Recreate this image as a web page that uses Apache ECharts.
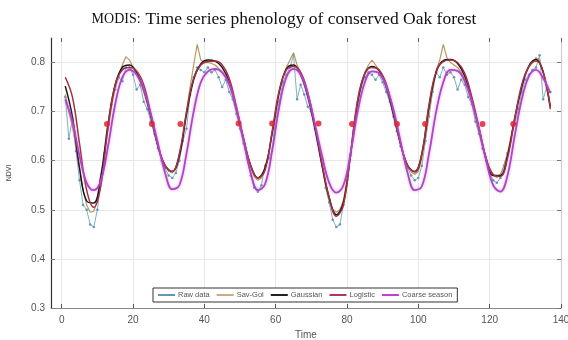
<!DOCTYPE html>
<html>
<head>
<meta charset="utf-8">
<script src="https://cdn.jsdelivr.net/npm/echarts@6/dist/echarts.min.js"></script>
<style>
html, body { margin: 0; padding: 0; background: #fff; }
#main { width: 568px; height: 340px; }
</style>
</head>
<body>
<div id="main"></div>
<script>
// time steps (16-day composites)
var tRaw = [1,2,3,4,5,6,7,8,9,10,11,12,13,14,15,16,17,18,19,20,21,22,23,24,25,26,27,28,29,30,
	31,32,33,34,35,36,37,38,39,40,41,42,43,44,45,46,47,48,49,50,51,52,53,54,55,56,57,58,59,60,
	61,62,63,64,65,66,67,68,69,70,71,72,73,74,75,76,77,78,79,80,81,82,83,84,85,86,87,88,89,90,
	91,92,93,94,95,96,97,98,99,100,101,102,103,104,105,106,107,108,109,110,111,112,113,114,115,116,117,118,119,120,
	121,122,123,124,125,126,127,128,129,130,131,132,133,134,135,136,137];
var tFit = [1,3,5,7,9,11,13,15,17,19,21,23,25,27,29,31,33,35,37,39,41,43,45,47,49,51,53,55,57,59,
	61,63,65,67,69,71,73,75,77,79,81,83,85,87,89,91,93,95,97,99,101,103,105,107,109,111,113,115,117,119,
	121,123,125,127,129,131,133,135,137];

var rawData = [0.73,0.645,0.685,0.62,0.56,0.51,0.50,0.47,0.465,0.50,0.56,0.615,0.665,0.715,0.745,0.77,0.762,0.79,0.79,0.775,
	0.745,0.755,0.72,0.705,0.68,0.655,0.625,0.60,0.585,0.57,0.565,0.575,0.60,0.64,0.665,0.735,0.77,0.79,0.785,0.78,
	0.79,0.78,0.785,0.77,0.75,0.765,0.74,0.725,0.695,0.665,0.635,0.605,0.57,0.545,0.537,0.55,0.59,0.605,0.62,0.69,
	0.72,0.76,0.775,0.79,0.815,0.725,0.755,0.735,0.71,0.70,0.665,0.635,0.59,0.545,0.515,0.48,0.465,0.47,0.51,0.56,
	0.61,0.67,0.72,0.75,0.77,0.78,0.775,0.765,0.775,0.76,0.74,0.72,0.69,0.66,0.63,0.605,0.585,0.57,0.56,0.565,
	0.59,0.64,0.69,0.74,0.78,0.77,0.79,0.775,0.78,0.77,0.745,0.765,0.755,0.73,0.715,0.68,0.655,0.625,0.60,0.575,
	0.56,0.555,0.565,0.59,0.615,0.645,0.675,0.705,0.74,0.765,0.775,0.785,0.79,0.815,0.725,0.75,0.74];
var savGol = [0.735,0.70,0.67,0.63,0.585,0.54,0.51,0.495,0.497,0.52,0.565,0.615,0.665,0.71,0.75,0.775,0.795,0.812,0.805,0.79,
	0.775,0.76,0.74,0.715,0.69,0.66,0.63,0.605,0.59,0.578,0.575,0.585,0.61,0.65,0.70,0.75,0.795,0.837,0.805,0.80,
	0.80,0.798,0.795,0.788,0.78,0.77,0.755,0.73,0.70,0.67,0.64,0.61,0.585,0.567,0.56,0.565,0.585,0.615,0.655,0.70,
	0.74,0.77,0.79,0.805,0.82,0.795,0.78,0.765,0.74,0.71,0.67,0.63,0.59,0.55,0.52,0.50,0.495,0.50,0.52,0.56,
	0.61,0.665,0.715,0.755,0.78,0.795,0.805,0.795,0.785,0.77,0.75,0.725,0.695,0.665,0.635,0.61,0.59,0.577,0.572,0.578,
	0.605,0.65,0.70,0.745,0.785,0.805,0.837,0.81,0.80,0.795,0.79,0.78,0.765,0.745,0.72,0.69,0.66,0.63,0.603,0.583,
	0.57,0.566,0.572,0.59,0.615,0.65,0.685,0.72,0.75,0.775,0.79,0.80,0.81,0.805,0.78,0.745,0.71];
var gaussian = [0.752,0.69,0.585,0.518,0.514,0.57,0.675,0.755,0.79,0.795,0.78,0.745,0.69,0.63,0.59,0.578,0.61,0.695,0.765,0.797,
	0.805,0.803,0.79,0.76,0.705,0.645,0.59,0.565,0.585,0.655,0.74,0.787,0.795,0.775,0.73,0.665,0.59,0.525,0.49,0.515,
	0.615,0.72,0.777,0.792,0.783,0.75,0.695,0.635,0.59,0.578,0.615,0.71,0.78,0.804,0.806,0.798,0.772,0.725,0.665,0.605,
	0.57,0.57,0.61,0.685,0.75,0.793,0.806,0.78,0.71];
var logistic = [0.77,0.73,0.635,0.54,0.505,0.55,0.67,0.755,0.785,0.79,0.783,0.755,0.695,0.63,0.59,0.578,0.615,0.70,0.768,0.795,
	0.802,0.803,0.795,0.767,0.71,0.645,0.59,0.565,0.58,0.66,0.743,0.785,0.792,0.78,0.738,0.672,0.595,0.525,0.487,0.51,
	0.615,0.725,0.778,0.79,0.785,0.757,0.70,0.635,0.59,0.577,0.615,0.715,0.782,0.802,0.805,0.80,0.778,0.73,0.668,0.605,
	0.572,0.568,0.605,0.685,0.755,0.792,0.803,0.782,0.705];
var coarse = [0.725,0.68,0.61,0.555,0.54,0.56,0.63,0.715,0.77,0.785,0.775,0.745,0.695,0.635,0.575,0.542,0.55,0.615,0.70,0.76,
	0.782,0.787,0.78,0.755,0.705,0.64,0.575,0.54,0.552,0.62,0.71,0.77,0.787,0.775,0.735,0.675,0.61,0.555,0.535,0.55,
	0.615,0.70,0.76,0.782,0.778,0.752,0.705,0.64,0.575,0.54,0.548,0.615,0.70,0.76,0.785,0.783,0.762,0.72,0.665,0.60,
	0.55,0.537,0.57,0.65,0.725,0.772,0.785,0.768,0.738];
// logistic inflection points
var dotT = [12.7,25.3,33.3,49.6,59.0,72.0,81.4,94.0,101.9,118.0,126.6];
var dotV = [0.675,0.675,0.675,0.676,0.676,0.676,0.675,0.675,0.675,0.675,0.675];

var xTicks = [0,20,40,60,80,100,120,140];
var yTicks = [0.3,0.4,0.5,0.6,0.7,0.8];
var names = ['Raw data','Sav-Gol','Gaussian','Logistic','Coarse season'];

function pairs(t, v) {
	var out = [];
	for (var i = 0; i < v.length; i++) out.push([t[i], v[i]]);
	return out;
}

var myChart = echarts.init(document.getElementById('main'));
var option = {
	animation: false,
	backgroundColor: '#fff',
	title: {
		text: '{a|MODIS:} {b|Time series phenology of conserved Oak forest}',
		left: 'center',
		top: 5,
		textStyle: {
			fontWeight: 'normal',
			rich: {
				a: { fontFamily: 'Liberation Serif', fontSize: 14, fontWeight: 'normal', color: '#111' },
				b: { fontFamily: 'Liberation Serif', fontSize: 17.5, fontWeight: 'normal', color: '#111' }
			}
		}
	},
	legend: {
		data: names,
		left: 153,
		top: 288,
		orient: 'horizontal',
		backgroundColor: '#fff',
		borderColor: '#333',
		borderWidth: 1,
		borderRadius: 0,
		padding: [3, 5],
		itemGap: 7,
		itemWidth: 17,
		itemHeight: 2,
		icon: 'rect',
		textStyle: { fontFamily: 'Liberation Sans', fontSize: 7.5, color: '#555', padding: [0, 0, 0, -2] }
	},
	grid: { left: 51, right: 7, top: 38, bottom: 32, outerBoundsMode: 'none', containLabel: false },
	xAxis: [{
		type: 'value',
		min: -3,
		max: 140,
		name: 'Time',
		nameLocation: 'middle',
		nameGap: 17,
		nameTextStyle: { fontFamily: 'Liberation Sans', fontSize: 10, color: '#555' },
		axisLine: { onZero: false, lineStyle: { color: '#888', width: 1 } },
		axisTick: { inside: true, length: 4, customValues: xTicks, lineStyle: { color: '#555' } },
		axisLabel: { customValues: xTicks, fontFamily: 'Liberation Sans', fontSize: 10, color: '#555', margin: 7 },
		splitLine: { show: true, lineStyle: { color: '#e8e8e8', width: 1 } }
	}, {
		type: 'value',
		position: 'top',
		min: -3,
		max: 140,
		axisLine: { show: false, onZero: false },
		axisTick: { inside: true, length: 4, customValues: xTicks, lineStyle: { color: '#666' } },
		axisLabel: { show: false },
		splitLine: { show: false }
	}],
	yAxis: [{
		type: 'value',
		min: 0.3,
		max: 0.85,
		name: 'NDVI',
		nameLocation: 'middle',
		nameGap: 38,
		nameTextStyle: { fontFamily: 'Liberation Sans', fontSize: 7, color: '#444' },
		axisLine: { show: true, onZero: false, lineStyle: { color: '#333', width: 1.2 } },
		axisTick: { show: true, inside: true, length: 4, customValues: yTicks, lineStyle: { color: '#777' } },
		axisLabel: { customValues: yTicks, fontFamily: 'Liberation Sans', fontSize: 10, color: '#555', margin: 6,
			formatter: function (v) { return v.toFixed(1); } },
		splitLine: { show: true, lineStyle: { color: '#e8e8e8', width: 1 } }
	}, {
		type: 'value',
		position: 'right',
		min: 0.3,
		max: 0.85,
		axisLine: { show: true, onZero: false, lineStyle: { color: '#ccc', width: 1 } },
		axisTick: { show: true, inside: true, length: 4, customValues: yTicks, lineStyle: { color: '#777' } },
		axisLabel: { show: false },
		splitLine: { show: false }
	}],
	series: [
		{
			name: 'Raw data', type: 'line', data: pairs(tRaw, rawData),
			symbol: 'circle', symbolSize: 2.5, showSymbol: true,
			lineStyle: { color: '#7fb0c4', width: 1 }, itemStyle: { color: '#5f98b0' }, z: 2
		},
		{
			name: 'Sav-Gol', type: 'line', data: pairs(tRaw, savGol), showSymbol: false,
			lineStyle: { color: '#b8975f', width: 1.2 }, itemStyle: { color: '#c9ad80' }, z: 3
		},
		{
			name: 'Gaussian', type: 'line', data: pairs(tFit, gaussian), showSymbol: false, smooth: 0.4,
			lineStyle: { color: '#151515', width: 1.5 }, itemStyle: { color: '#222' }, z: 4
		},
		{
			name: 'Logistic', type: 'line', data: pairs(tFit, logistic), showSymbol: false, smooth: 0.4,
			lineStyle: { color: '#a3303f', width: 1.5 }, itemStyle: { color: '#b03a55' }, z: 5
		},
		{
			name: 'Coarse season', type: 'line', data: pairs(tFit, coarse), showSymbol: false, smooth: 0.4,
			lineStyle: { color: '#a848c8', width: 1.8, shadowColor: 'rgba(240,90,210,0.6)', shadowBlur: 3 },
			itemStyle: { color: '#c040d0' }, z: 6
		},
		{
			name: 'inflection', type: 'scatter', data: pairs(dotT, dotV),
			symbolSize: 6, itemStyle: { color: '#e02535', opacity: 0.85 }, z: 7
		}
	]
};
myChart.setOption(option);
</script>
</body>
</html>
